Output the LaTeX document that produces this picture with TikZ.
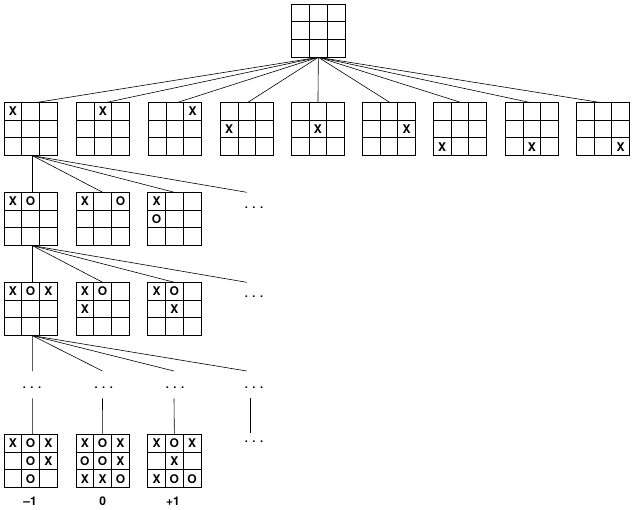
\documentclass[tikz,border=0pt]{standalone}
\usepackage{fontspec}
\setmainfont{TeX Gyre Heros}
\usetikzlibrary{calc}
\tikzset{
  boardbox/.style={draw, line width=0.9pt, minimum size=53.3pt, inner sep=0pt, outer sep=0pt, anchor=north west},
  gridline/.style={line width=0.9pt},
  markstyle/.style={font=\fontsize{12}{14}\selectfont\bfseries, inner sep=0pt},
  edge/.style={line width=0.6pt},
  dotsnode/.style={font=\fontsize{11}{13}\selectfont\bfseries, inner sep=0pt},
  score/.style={font=\fontsize{12}{14}\selectfont\bfseries, inner sep=0pt},
}
\newcommand{\threedots}{.\hspace{4.6pt}.\hspace{4.6pt}.}
\newcommand{\tttboard}[4]{%
  \node[boardbox] (#1) at (#2,#3) {};
  \draw[gridline] (#2+17.77,#3) -- (#2+17.77,#3+53.3)
                  (#2+35.53,#3) -- (#2+35.53,#3+53.3)
                  (#2,#3+17.77) -- (#2+53.3,#3+17.77)
                  (#2,#3+35.53) -- (#2+53.3,#3+35.53);
  \foreach \m [count=\i from 0] in {#4} {
    \pgfmathtruncatemacro{\rr}{div(\i,3)}
    \pgfmathtruncatemacro{\cc}{mod(\i,3)}
    \node[markstyle] at (#2+8.88+17.77*\cc, #3+8.88+17.77*\rr) {\m};
  }
}
\begin{document}
\begin{tikzpicture}[x=1pt,y=-1pt]
\useasboundingbox (0,0) rectangle (634,509);
% root
\tttboard{root}{291.7}{4}{,,,,,,,,}
% first ply
\tttboard{ba}{4}{102.3}{X,,,,,,,,}
\tttboard{bb}{76.3}{102.3}{,X,,,,,,,}
\tttboard{bc}{148.3}{102.3}{,,X,,,,,,}
\tttboard{bd}{220.3}{102.3}{,,,X,,,,,}
\tttboard{be}{291.3}{102.3}{,,,,X,,,,}
\tttboard{bf}{362.3}{102.3}{,,,,,X,,,}
\tttboard{bg}{433.3}{102.3}{,,,,,,X,,}
\tttboard{bh}{505.3}{102.3}{,,,,,,,X,}
\tttboard{bi}{576.3}{102.3}{,,,,,,,,X}
% second ply
\tttboard{ca}{4}{192.3}{X,O,,,,,,,}
\tttboard{cb}{76}{192.3}{X,,O,,,,,,}
\tttboard{cc}{147.7}{192.3}{X,,,O,,,,,}
\node[dotsnode] (cd) at (254,207.3) {\threedots};
% third ply
\tttboard{da}{4}{282.3}{X,O,X,,,,,,}
\tttboard{db}{76}{282.3}{X,O,,X,,,,,}
\tttboard{dc}{147.7}{282.3}{X,O,,,X,,,,}
\node[dotsnode] (dd) at (254,296.7) {\threedots};
% fourth level dots
\node[dotsnode] (fa) at (32,387.3) {\threedots};
\node[dotsnode] (fb) at (103.7,387.3) {\threedots};
\node[dotsnode] (fc) at (175,387.3) {\threedots};
\node[dotsnode] (fd) at (254,387.3) {\threedots};
% terminal boards
\tttboard{ha}{4}{434.3}{X,O,X,,O,X,,O,}
\tttboard{hb}{76}{434.3}{X,O,X,O,O,X,X,X,O}
\tttboard{hc}{147.7}{434.3}{X,O,X,,X,,X,O,O}
\node[dotsnode] (hd) at (254,441.7) {\threedots};
% scores
\node[score] (sa) at (30,501) {–1};
\node[score] (sb) at (102.7,501) {0};
\node[score] (sc) at (173,501) {+1};
% connectors from the root
\draw[edge] (root.south) -- ([xshift=7pt]ba.north);
\draw[edge] (root.south) -- ([xshift=4pt]bb.north);
\draw[edge] (root.south) -- ([xshift=3pt]bc.north);
\draw[edge] (root.south) -- ([xshift=1pt]bd.north);
\draw[edge] (root.south) -- (be.north);
\draw[edge] (root.south) -- ([xshift=0.7pt]bf.north);
\draw[edge] (root.south) -- ([xshift=0.5pt]bg.north);
\draw[edge] (root.south) -- ([xshift=-2.8pt]bh.north);
\draw[edge] (root.south) -- ([xshift=-4pt]bi.north);
% second ply connectors
\draw[edge] ([xshift=1.65pt]ba.south) -- ([xshift=1.65pt]ca.north);
\draw[edge] ([xshift=1.65pt]ba.south) -- (cb.north);
\draw[edge] ([xshift=1.65pt]ba.south) -- (cc.north);
\draw[edge] ([xshift=1.65pt]ba.south) -- ($(cd)+(-7.3,-15)$);
% third ply connectors
\draw[edge] ([xshift=1.65pt]ca.south) -- ([xshift=1.65pt]da.north);
\draw[edge] ([xshift=1.65pt]ca.south) -- (db.north);
\draw[edge] ([xshift=1.65pt]ca.south) -- (dc.north);
\draw[edge] ([xshift=1.65pt]ca.south) -- ($(dd)+(-7.3,-14.4)$);
% fourth level connectors
\draw[edge] ([xshift=1.65pt]da.south) -- ($(fa)+(0.3,-16.3)$);
\draw[edge] ([xshift=1.65pt]da.south) -- ($(fb)+(-1.2,-16.3)$);
\draw[edge] ([xshift=1.65pt]da.south) -- ($(fc)+(-1,-16.3)$);
\draw[edge] ([xshift=1.65pt]da.south) -- ($(fd)+(-7.3,-16.3)$);
% down to terminal positions
\draw[edge] ($(fa)+(0.3,11)$) -- ([xshift=1.65pt]ha.north);
\draw[edge] ($(fb)+(-1.2,11)$) -- (hb.north);
\draw[edge] ($(fc)+(-1,11)$) -- (hc.north);
\draw[edge] ($(fd)+(-3.7,11)$) -- ($(hd)+(-3.7,-8.4)$);
\end{tikzpicture}
\end{document}
